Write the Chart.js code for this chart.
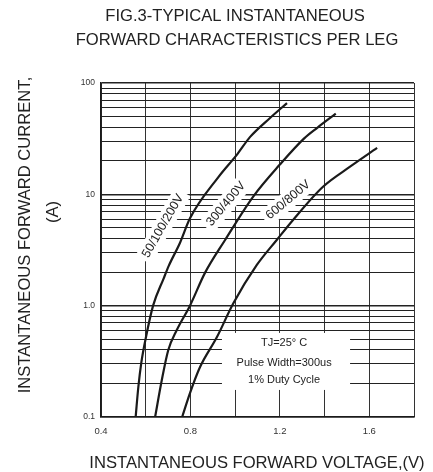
<!DOCTYPE html>
<html>
<head>
<meta charset="utf-8">
<script src="https://cdn.jsdelivr.net/npm/chart.js@4.4.1/dist/chart.umd.min.js"></script>
<style>
  html, body { margin: 0; padding: 0; background: #fff; }
  #wrap { width: 433px; height: 472px; position: relative; }
</style>
</head>
<body>
<div id="wrap"><canvas id="c" width="433" height="472"></canvas></div>
<script>
// ---- data ----
const voltTicks = [0.4, 0.6, 0.8, 1.0, 1.2, 1.4, 1.6, 1.8];
const voltLabelValues = [0.4, 0.8, 1.2, 1.6];
const voltLabels = ['0.4', '0.8', '1.2', '1.6'];
const currentTicks = [0.1,0.2,0.3,0.4,0.5,0.6,0.7,0.8,0.9,1,2,3,4,5,6,7,8,9,10,20,30,40,50,60,70,80,90,100];
const currentLabelValues = [0.1, 1, 10, 100];
const currentLabels = ['0.1', '1.0', '10', '100'];
const seriesNames = ['50/100/200V', '300/400V', '600/800V'];

const volt1 = [0.555, 0.567, 0.580, 0.601, 0.633, 0.680, 0.704, 0.753, 0.798, 0.925, 1.010, 1.067, 1.156, 1.232];
const curr1 = [0.1,   0.186, 0.305, 0.52,  1.0,   1.75,  2.3,   3.66,  6.1,   14.3,  23,    32.8,  48.5,  66];

const volt2 = [0.642, 0.672, 0.701, 0.739, 0.798, 0.865, 0.955, 1.080, 1.200, 1.310, 1.370, 1.450];
const curr2 = [0.1,   0.215, 0.40,  0.605, 1.0,   1.97,  3.89,  9.5,   18.5,  32,    40,    53];

const volt3 = [0.763, 0.798, 0.843, 0.918, 0.992, 1.097, 1.186, 1.259, 1.393, 1.514, 1.635];
const curr3 = [0.1,   0.164, 0.281, 0.52,  1.05,  2.32,  3.89,  5.89,  11.7,  17.7,  26.1];

const noteLines = ['TJ=25\u00B0 C', 'Pulse Width=300us', '1% Duty Cycle'];

// ---- helpers ----
function pairs(xs, ys) { return xs.map((v, i) => ({ x: v, y: ys[i] })); }
function labelFor(value, vals, labels) {
  for (let i = 0; i < vals.length; i++) {
    if (Math.abs(value - vals[i]) < 1e-6 * Math.max(1, vals[i])) return labels[i];
  }
  return '';
}
const FONT = "'Liberation Sans', Arial, Helvetica, sans-serif";
const INK = '#1a1a1a';

// label anchors (data coordinates) and rotation angles
const curveLabelPos = [
  { x: 0.677, y: 5.2, rot: -60 },
  { x: 0.959, y: 8.2, rot: -50 },
  { x: 1.237, y: 8.9, rot: -40 }
];
const noteBox = { x0: 0.941, x1: 1.514, y0: 0.569, y1: 0.175, cx: 1.219, ys: [0.462, 0.306, 0.215] };

const overlay = {
  id: 'overlay',
  beforeDatasetsDraw(chart) {
    const ctx = chart.ctx, xs = chart.scales.x, ys = chart.scales.y;
    ctx.save();
    // note box
    const bx0 = xs.getPixelForValue(noteBox.x0), bx1 = xs.getPixelForValue(noteBox.x1);
    const by0 = ys.getPixelForValue(noteBox.y0), by1 = ys.getPixelForValue(noteBox.y1);
    ctx.fillStyle = '#fff';
    ctx.fillRect(bx0, by0, bx1 - bx0, by1 - by0);
    ctx.fillStyle = '#222';
    ctx.font = '11px ' + FONT;
    ctx.textAlign = 'center';
    ctx.textBaseline = 'middle';
    const cx = xs.getPixelForValue(noteBox.cx);
    noteLines.forEach((t, i) => ctx.fillText(t, cx, ys.getPixelForValue(noteBox.ys[i])));
    // curve labels
    ctx.font = '12.5px ' + FONT;
    seriesNames.forEach((name, i) => {
      const p = curveLabelPos[i];
      const px = xs.getPixelForValue(p.x), py = ys.getPixelForValue(p.y);
      ctx.save();
      ctx.translate(px, py);
      ctx.rotate(p.rot * Math.PI / 180);
      const w = ctx.measureText(name).width;
      ctx.fillStyle = '#fff';
      ctx.fillRect(-w / 2 - 4, -9, w + 8, 18);
      ctx.fillStyle = '#222';
      ctx.fillText(name, 0, 0);
      ctx.restore();
    });
    ctx.restore();
  },
  afterDraw(chart) {
    const ctx = chart.ctx;
    ctx.save();
    ctx.fillStyle = '#222';
    ctx.font = '16.6px ' + FONT;
    ctx.textAlign = 'center';
    ctx.textBaseline = 'middle';
    ctx.fillText('FIG.3-TYPICAL INSTANTANEOUS', 235, 16);
    ctx.fillText('FORWARD CHARACTERISTICS PER LEG', 237, 40);
    ctx.fillText('INSTANTANEOUS FORWARD VOLTAGE,(V)', 257, 463);
    ctx.save();
    ctx.translate(25, 235);
    ctx.rotate(-Math.PI / 2);
    ctx.fillText('INSTANTANEOUS FORWARD CURRENT,', 0, 0);
    ctx.restore();
    ctx.save();
    ctx.translate(53, 212);
    ctx.rotate(-Math.PI / 2);
    ctx.fillText('(A)', 0, 0);
    ctx.restore();
    ctx.restore();
  }
};

const lineStyle = { borderColor: INK, borderWidth: 2.2, pointRadius: 0, fill: false, cubicInterpolationMode: 'monotone' };

new Chart(document.getElementById('c'), {
  type: 'line',
  data: {
    datasets: [
      Object.assign({ label: seriesNames[0], data: pairs(volt1, curr1) }, lineStyle),
      Object.assign({ label: seriesNames[1], data: pairs(volt2, curr2) }, lineStyle),
      Object.assign({ label: seriesNames[2], data: pairs(volt3, curr3) }, lineStyle)
    ]
  },
  options: {
    responsive: false,
    animation: false,
    devicePixelRatio: 1,
    layout: { padding: { left: 0, top: 83, right: 19, bottom: 0 } },
    plugins: { legend: { display: false }, tooltip: { enabled: false }, title: { display: false } },
    scales: {
      x: {
        type: 'linear',
        min: 0.4, max: 1.8,
        afterBuildTicks(scale) { scale.ticks = voltTicks.map(v => ({ value: v })); },
        afterFit(scale) { scale.height = 55; },
        ticks: {
          autoSkip: false, maxRotation: 0, padding: 9,
          color: '#333', font: { family: FONT, size: 9.5 },
          callback: (v) => labelFor(v, voltLabelValues, voltLabels)
        },
        grid: { color: '#333', lineWidth: 1, drawTicks: false },
        border: { display: true, color: INK, width: 1.6 }
      },
      y: {
        type: 'logarithmic',
        min: 0.1, max: 100,
        afterBuildTicks(scale) { scale.ticks = currentTicks.map(v => ({ value: v })); },
        afterFit(scale) { scale.width = 101; },
        ticks: {
          autoSkip: false, padding: 6,
          color: '#333', font: { family: FONT, size: 8.5 },
          callback: (v) => labelFor(v, currentLabelValues, currentLabels)
        },
        grid: {
          color: '#222',
          drawTicks: false,
          lineWidth: (c) => {
            const v = c.tick ? c.tick.value : 0;
            return (currentLabelValues.some(d => Math.abs(d - v) < 1e-9 * Math.max(1, d))) ? 1.6 : 1;
          }
        },
        border: { display: true, color: INK, width: 1.6 }
      }
    }
  },
  plugins: [overlay]
});
</script>
</body>
</html>
